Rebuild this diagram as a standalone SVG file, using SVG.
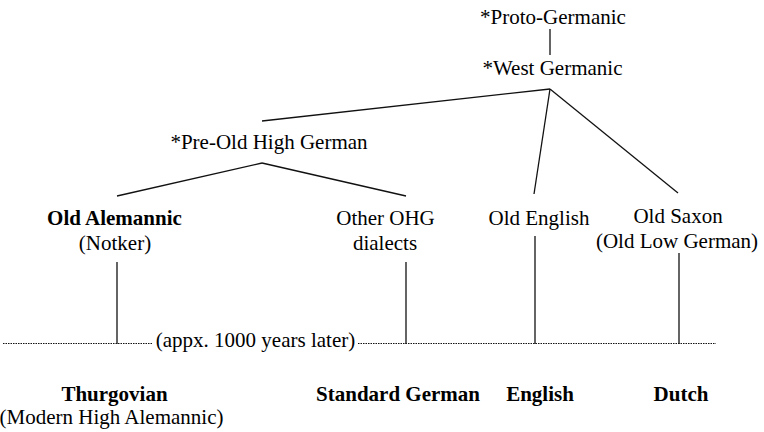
<svg xmlns="http://www.w3.org/2000/svg" width="764" height="432" viewBox="0 0 764 432">
<style>
text{font-family:"Liberation Serif",Tinos,"Times New Roman",Times,"DejaVu Serif","Noto Serif",serif;font-size:21px;fill:#000;text-anchor:middle}
.b{font-weight:bold}
.c line{stroke:#111;stroke-width:1.3;fill:none}
.d{stroke:#111;stroke-width:1;stroke-dasharray:1.5 1;fill:none}
</style>
<rect width="764" height="432" fill="#fff"/>
<g id="connectors" class="c">
<line x1="550" y1="29" x2="550" y2="55"/>
<line x1="550" y1="89" x2="262" y2="121"/>
<line x1="550" y1="89" x2="534" y2="194"/>
<line x1="550" y1="89" x2="678" y2="193"/>
<line x1="262" y1="163" x2="117" y2="196"/>
<line x1="262" y1="163" x2="406" y2="196"/>
<line x1="117" y1="262" x2="117" y2="344"/>
<line x1="406" y1="262" x2="406" y2="344"/>
<line x1="535" y1="236" x2="535" y2="344"/>
<line x1="679" y1="253" x2="679" y2="344"/>
<path class="d" d="M3 343.5H152M358 343.5H716"/>
</g>
<g id="proto-germanic"><text x="553" y="24">*Proto-Germanic</text></g>
<g id="west-germanic"><text x="552.5" y="75">*West Germanic</text></g>
<g id="pre-ohg"><text x="269" y="149">*Pre-Old High German</text></g>
<g id="old-alemannic"><text class="b" x="114.5" y="225">Old Alemannic</text><text x="115" y="250">(Notker)</text></g>
<g id="other-ohg"><text x="385.5" y="225">Other OHG</text><text x="385" y="250">dialects</text></g>
<g id="old-english"><text x="539" y="225">Old English</text></g>
<g id="old-saxon"><text x="678" y="222.5">Old Saxon</text><text x="677" y="248">(Old Low German)</text></g>
<g id="time-label"><text x="255.5" y="347">(appx. 1000 years later)</text></g>
<g id="thurgovian"><text class="b" x="114.5" y="401">Thurgovian</text><text x="111.5" y="424">(Modern High Alemannic)</text></g>
<g id="standard-german"><text class="b" x="398" y="401">Standard German</text></g>
<g id="english"><text class="b" x="540" y="401">English</text></g>
<g id="dutch"><text class="b" x="681" y="401">Dutch</text></g>
</svg>
